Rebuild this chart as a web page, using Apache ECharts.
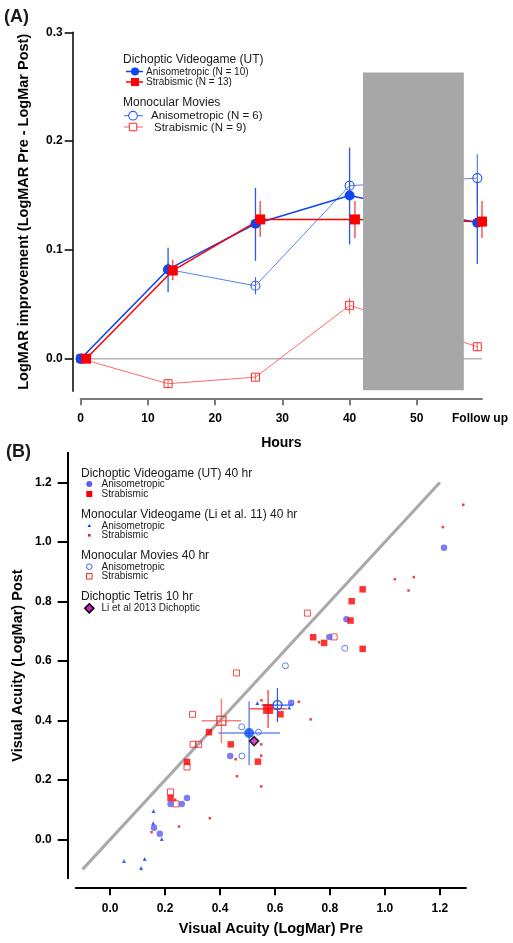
<!DOCTYPE html>
<html><head><meta charset="utf-8">
<script src="https://cdn.jsdelivr.net/npm/echarts@6/dist/echarts.min.js"></script>
<style>html,body{margin:0;padding:0;background:#fff}#c{width:513px;height:943px}</style>
</head><body><div id="c"></div>
<script>
// ================= Panel A data =================
const hoursCirc = [0, 13, 26, 40, 59];
const hoursSq = [0.8, 13.7, 26.7, 40.8, 59.7];
const hoursMonoSq = [0, 13, 26, 40, 59];
const dichAnisoImp = [0, 0.082, 0.124, 0.150, 0.125];
const dichAnisoLo  = [0, 0.061, 0.090, 0.105, 0.087];
const dichAnisoHi  = [0, 0.102, 0.157, 0.194, 0.163];
const dichStrabImp = [0, 0.081, 0.128, 0.128, 0.126];
const dichStrabLo  = [0, 0.072, 0.112, 0.111, 0.111];
const dichStrabHi  = [0, 0.091, 0.145, 0.145, 0.145];
const monoAnisoImp = [0, 0.082, 0.067, 0.159, 0.166];
const monoAnisoLo  = [0, 0.076, 0.059, 0.140, 0.144];
const monoAnisoHi  = [0, 0.088, 0.075, 0.178, 0.188];
const monoStrabImp = [0, -0.023, -0.017, 0.049, 0.011];
const monoStrabLo  = [0, -0.027, -0.020, 0.041, 0.007];
const monoStrabHi  = [0, -0.019, -0.014, 0.056, 0.015];
const grayBand = [42, 57, -0.029, 0.263];
const zeroLineX = [0, 59.7];
const xTicksA = [0, 10, 20, 30, 40, 50];
const followUpPos = 59.4;
const followUpLabel = 'Follow up';
const yTicksA = [0, 0.1, 0.2, 0.3];

// ================= Panel B data ([pre, post]) =================
const dichAnisoPts = [[1.215,0.981],[0.860,0.740],[0.798,0.681],[0.659,0.460],[0.437,0.281],
  [0.220,0.120],[0.261,0.120],[0.280,0.140],[0.160,0.040],[0.181,0.020]];
const dichStrabPts = [[0.919,0.841],[0.879,0.801],[0.875,0.736],[0.739,0.680],[0.779,0.661],
  [0.919,0.641],[0.360,0.361],[0.620,0.421],[0.439,0.320],[0.538,0.262],[0.280,0.261],[0.220,0.140]];
const monoMovAnisoPts = [[0.854,0.643],[0.638,0.584],[0.479,0.379],[0.540,0.361],[0.480,0.281]];
const monoMovStrabPts = [[0.718,0.761],[0.815,0.681],[0.460,0.560],[0.300,0.421],[0.302,0.320],
  [0.322,0.320],[0.280,0.244],[0.220,0.160],[0.240,0.120]];
const monoVGAnisoPts = [[0.536,0.459],[0.652,0.444],[0.158,0.096],[0.157,0.055],[0.188,0.002],
  [0.051,-0.072],[0.126,-0.065],[0.113,-0.095]];
const monoVGStrabPts = [[1.285,1.125],[1.211,1.050],[1.036,0.875],[1.105,0.882],[1.086,0.837],
  [0.761,0.663],[0.551,0.468],[0.687,0.463],[0.730,0.404],[0.550,0.320],[0.457,0.270],
  [0.550,0.282],[0.462,0.213],[0.550,0.179],[0.237,0.134],[0.151,0.025],[0.251,0.044],[0.363,0.072]];
// means: [x, y, xErr, yErr]
const dichAnisoMean = [0.506, 0.358, 0.112, 0.107];
const dichStrabMean = [0.575, 0.439, 0.068, 0.064];
const monoAnisoMean = [0.609, 0.452, 0.058, 0.057];
const monoStrabMean = [0.405, 0.399, 0.072, 0.075];
const tetrisPt = [[0.524, 0.331]];
const diagX = [-0.1, 1.2];
const diagY = [-0.1, 1.2];
const ticksB = [0, 0.2, 0.4, 0.6, 0.8, 1.0, 1.2];

// ================= build =================
const FONT = '"Liberation Sans", Arial, Helvetica, sans-serif';
const zip = (a, b) => a.map((v, i) => [v, b[i]]);
const zip3 = (a, b, c) => a.map((v, i) => [v, b[i], c[i]]);

function vErrSeries(x, lo, hi, color, w, z) {
  return {
    type: 'custom', xAxisIndex: 0, yAxisIndex: 0, z: z, silent: true,
    data: zip3(x, lo, hi).filter(d => d[1] !== d[2]),
    encode: { x: 0, y: [1, 2] },
    renderItem: function (params, api) {
      const p = api.coord([api.value(0), api.value(1)]);
      const q = api.coord([api.value(0), api.value(2)]);
      return { type: 'line', shape: { x1: p[0], y1: p[1], x2: q[0], y2: q[1] },
        style: { stroke: color, lineWidth: w } };
    }
  };
}
function meanErrSeries(m, color, w) {
  return {
    type: 'custom', xAxisIndex: 1, yAxisIndex: 1, z: 8, silent: true,
    data: [m], encode: { x: 0, y: 1 },
    renderItem: function (params, api) {
      const x = api.value(0), y = api.value(1), ex = api.value(2), ey = api.value(3);
      const a = api.coord([x - ex, y]), b = api.coord([x + ex, y]);
      const c = api.coord([x, y - ey]), d = api.coord([x, y + ey]);
      return { type: 'group', children: [
        { type: 'line', shape: { x1: a[0], y1: a[1], x2: b[0], y2: b[1] }, style: { stroke: color, lineWidth: w } },
        { type: 'line', shape: { x1: c[0], y1: c[1], x2: d[0], y2: d[1] }, style: { stroke: color, lineWidth: w } }
      ] };
    }
  };
}
function lineA(name, x, y, sym, size, lineColor, lw, item, z) {
  return { name, type: 'line', xAxisIndex: 0, yAxisIndex: 0, data: zip(x, y), clip: false,
    symbol: sym, symbolSize: size, showAllSymbol: true, z: z,
    lineStyle: { color: lineColor, width: lw }, itemStyle: item };
}
function scatB(name, pts, sym, size, item, z) {
  return { name, type: 'scatter', xAxisIndex: 1, yAxisIndex: 1, data: pts, symbol: sym,
    symbolSize: size, itemStyle: item, z: z, clip: false };
}

const series = [
  // Panel A
  { type: 'line', xAxisIndex: 0, yAxisIndex: 0, data: zip(zeroLineX, [0, 0]), showSymbol: false, silent: true,
    lineStyle: { color: '#b4b4b4', width: 1.5 }, z: 1 },
  vErrSeries(hoursMonoSq, monoStrabLo, monoStrabHi, '#ff6060', 1, 2),
  vErrSeries(hoursCirc, monoAnisoLo, monoAnisoHi, '#3a66ea', 1, 2),
  vErrSeries(hoursCirc, dichAnisoLo, dichAnisoHi, '#2a58e6', 1.3, 2),
  vErrSeries(hoursSq, dichStrabLo, dichStrabHi, '#f04040', 1.3, 2),
  lineA('Monocular Strabismic', hoursMonoSq, monoStrabImp, 'rect', 8, '#ff6a6a', 1,
    { color: 'rgba(255,255,255,0)', borderColor: '#ff2a2a', borderWidth: 1 }, 3),
  lineA('Monocular Anisometropic', hoursCirc, monoAnisoImp, 'circle', 9, '#5a80f2', 1,
    { color: 'rgba(255,255,255,0)', borderColor: '#2a58e8', borderWidth: 1.1 }, 3),
  lineA('Dichoptic Anisometropic', hoursCirc, dichAnisoImp, 'circle', 10, '#0d45ee', 1.5,
    { color: '#0d45ee' }, 4),
  lineA('Dichoptic Strabismic', hoursSq, dichStrabImp, 'rect', 10, '#ff0000', 1.5,
    { color: '#ff0000' }, 4),
  { type: 'custom', xAxisIndex: 0, yAxisIndex: 0, z: 6, silent: true, data: [grayBand],
    encode: { x: [0, 1], y: [2, 3] },
    renderItem: function (params, api) {
      const p = api.coord([api.value(0), api.value(3)]);
      const q = api.coord([api.value(1), api.value(2)]);
      return { type: 'rect', shape: { x: p[0], y: p[1], width: q[0] - p[0], height: q[1] - p[1] },
        style: { fill: '#a7a7a7' } };
    } },
  // Panel B
  { type: 'line', xAxisIndex: 1, yAxisIndex: 1, data: zip(diagX, diagY), showSymbol: false, silent: true,
    lineStyle: { color: '#a9a9a9', width: 3 }, z: 1 },
  scatB('MVG Strabismic', monoVGStrabPts, 'rect', 2.5, { color: '#ee1010' }, 2),
  scatB('MVG Anisometropic', monoVGAnisoPts, 'triangle', 4, { color: '#1636e6' }, 2),
  scatB('MM Strabismic', monoMovStrabPts, 'rect', 6, { color: 'rgba(255,255,255,0)', borderColor: '#f02020', borderWidth: 1 }, 3),
  scatB('MM Anisometropic', monoMovAnisoPts, 'circle', 6, { color: 'rgba(255,255,255,0)', borderColor: '#3a5fe8', borderWidth: 1 }, 3),
  scatB('DV Anisometropic', dichAnisoPts, 'circle', 6.5, { color: '#5b5df2' }, 4),
  scatB('DV Strabismic', dichStrabPts, 'rect', 6.5, { color: '#ff0000' }, 4),
  meanErrSeries(monoStrabMean, 'rgba(240,90,90,0.75)', 1.5),
  meanErrSeries(dichAnisoMean, 'rgba(80,120,240,0.85)', 1.5),
  meanErrSeries(dichStrabMean, '#ff2a2a', 1.2),
  meanErrSeries(monoAnisoMean, '#2a5ae8', 1.2),
  scatB('MM Strab mean', [monoStrabMean.slice(0, 2)], 'rect', 9, { color: 'rgba(255,255,255,0)', borderColor: '#f03030', borderWidth: 1.5 }, 9),
  scatB('DV Aniso mean', [dichAnisoMean.slice(0, 2)], 'circle', 10, { color: '#0a4cf5' }, 9),
  scatB('DV Strab mean', [dichStrabMean.slice(0, 2)], 'rect', 10, { color: '#ff0000' }, 9),
  scatB('MM Aniso mean', [monoAnisoMean.slice(0, 2)], 'circle', 9, { color: 'rgba(255,255,255,0)', borderColor: '#1a4ae8', borderWidth: 1.5 }, 9),
  scatB('Tetris', tetrisPt, 'diamond', 9, { color: '#d21cc4', borderColor: '#000', borderWidth: 1.6 }, 10)
];

const boldLbl = { fontFamily: FONT, fontWeight: 'bold', fontSize: 12, color: '#000' };
const nameStyle = { fontFamily: FONT, fontWeight: 'bold', fontSize: 14.5, color: '#000' };

const option = {
  animation: false,
  backgroundColor: '#fff',
  grid: [
    { left: 80.7, top: 32.3, width: 401.3, height: 359, outerBoundsMode: 'none', containLabel: false },
    { left: 75.7, top: 452.7, width: 390.3, height: 425.6, outerBoundsMode: 'none', containLabel: false }
  ],
  xAxis: [
    { gridIndex: 0, type: 'value', min: 0, max: 59.7, offset: 7,
      axisLine: { onZero: false, lineStyle: { color: '#7a7a7a', width: 2 } },
      axisTick: { customValues: xTicksA, length: 7, lineStyle: { color: '#7a7a7a', width: 2 } },
      axisLabel: Object.assign({ customValues: xTicksA.concat([followUpPos]), margin: 14,
        formatter: v => (v === followUpPos ? followUpLabel : String(v)) }, boldLbl),
      splitLine: { show: false },
      name: 'Hours', nameLocation: 'middle', nameGap: 38, nameMoveOverlap: false,
      nameTextStyle: Object.assign({}, nameStyle, { fontSize: 14 }) },
    { gridIndex: 1, type: 'value', min: -0.125, max: 1.295, offset: 9,
      axisLine: { onZero: false, lineStyle: { color: '#000', width: 2 } },
      axisTick: { customValues: ticksB, length: 8, lineStyle: { color: '#000', width: 2 } },
      axisLabel: Object.assign({ customValues: ticksB, margin: 15, formatter: v => v.toFixed(1) }, boldLbl),
      splitLine: { show: false },
      name: 'Visual Acuity (LogMar) Pre', nameLocation: 'middle', nameGap: 34, nameMoveOverlap: false,
      nameTextStyle: nameStyle }
  ],
  yAxis: [
    { gridIndex: 0, type: 'value', min: -0.03, max: 0.3, offset: 8,
      axisLine: { show: true, onZero: false, lineStyle: { color: '#000', width: 1.5 } },
      axisTick: { show: true, customValues: yTicksA, length: 8, lineStyle: { color: '#000', width: 1.5 } },
      axisLabel: Object.assign({ customValues: yTicksA, margin: 10, formatter: v => v.toFixed(1) }, boldLbl),
      splitLine: { show: false },
      name: 'LogMAR improvement (LogMAR Pre - LogMar Post)', nameLocation: 'middle', nameGap: 41,
      nameMoveOverlap: false, nameTextStyle: Object.assign({}, nameStyle, { fontSize: 14.5 }) },
    { gridIndex: 1, type: 'value', min: -0.13, max: 1.3, offset: 8,
      axisLine: { show: true, onZero: false, lineStyle: { color: '#000', width: 2 } },
      axisTick: { show: true, customValues: ticksB, length: 10, lineStyle: { color: '#000', width: 2 } },
      axisLabel: Object.assign({ customValues: ticksB, margin: 16, formatter: v => v.toFixed(1) }, boldLbl),
      splitLine: { show: false },
      name: 'Visual Acuity (LogMar) Post', nameLocation: 'middle', nameGap: 42,
      nameMoveOverlap: false, nameTextStyle: nameStyle }
  ],
  series: series,
  graphic: { elements: buildLegend() }
};

function T(x, y, s, size, weight) {
  return { type: 'text', x: x, y: y, z: 100, silent: true,
    style: { text: s, fill: '#1a1a1a', font: (weight || 'normal') + ' ' + size + 'px ' + FONT,
      textAlign: 'left', textVerticalAlign: 'middle', align: 'left', verticalAlign: 'middle' } };
}
function L(x1, y1, x2, y2, c, w) {
  return { type: 'line', z: 100, silent: true, shape: { x1, y1, x2, y2 }, style: { stroke: c, lineWidth: w } };
}
function C(cx, cy, r, fill, stroke, w) {
  return { type: 'circle', z: 101, silent: true, shape: { cx, cy, r }, style: { fill: fill, stroke: stroke || null, lineWidth: w || 0 } };
}
function R(cx, cy, s, fill, stroke, w) {
  return { type: 'rect', z: 101, silent: true, shape: { x: cx - s / 2, y: cy - s / 2, width: s, height: s },
    style: { fill: fill, stroke: stroke || null, lineWidth: w || 0 } };
}
function buildLegend() {
  const els = [];
  // Panel titles
  els.push(T(4, 17, '(A)', 18, 'bold'));
  els.push(T(6, 452, '(B)', 18, 'bold'));
  // Panel A legend
  els.push(T(123, 60, 'Dichoptic Videogame (UT)', 12));
  els.push(L(126, 71.5, 143, 71.5, '#0d45ee', 1.5), C(135, 71.5, 4, '#0d45ee'));
  els.push(T(146, 72, 'Anisometropic (N = 10)', 10));
  els.push(L(126, 82, 143, 82, '#ff0000', 1.5), R(135, 82, 8, '#ff0000'));
  els.push(T(146, 82.5, 'Strabismic (N = 13)', 10));
  els.push(T(123, 103, 'Monocular Movies', 12));
  els.push(L(124, 115.7, 143, 115.7, '#3a66ea', 1), C(133, 115.7, 4.3, '#fff', '#2a58e8', 1.1));
  els.push(T(151, 116, 'Anisometropic (N = 6)', 11.5));
  els.push(L(124, 127, 143, 127, '#ff6060', 1), R(133, 127, 7.5, '#fff', '#ff2a2a', 1), L(133, 123.5, 133, 130.5, '#ff6060', 1));
  els.push(T(154, 127.5, 'Strabismic (N = 9)', 11.5));
  // Panel B legend
  els.push(T(81, 473.3, 'Dichoptic Videogame (UT) 40 hr', 12));
  els.push(C(89.3, 484, 3, '#5b5df2'));
  els.push(T(101.5, 484.3, 'Anisometropic', 10));
  els.push(R(89.3, 494, 6, '#ff0000'));
  els.push(T(101.5, 494.3, 'Strabismic', 10));
  els.push(T(81, 514.3, 'Monocular Videogame (Li et al. 11) 40 hr', 12));
  els.push({ type: 'polygon', z: 101, silent: true, shape: { points: [[89.3, 524], [87.5, 527], [91.1, 527]] }, style: { fill: '#1636e6' } });
  els.push(T(101.5, 526, 'Anisometropic', 10));
  els.push(R(89.3, 535.3, 2.5, '#ee1010'));
  els.push(T(101.5, 535.6, 'Strabismic', 10));
  els.push(T(81, 556, 'Monocular Movies 40 hr', 12));
  els.push(C(89.3, 566.7, 2.8, 'rgba(255,255,255,0)', '#3a5fe8', 1));
  els.push(T(101.5, 567, 'Anisometropic', 10));
  els.push(R(89.3, 576.3, 5.5, 'rgba(255,255,255,0)', '#f02020', 1));
  els.push(T(101.5, 576.6, 'Strabismic', 10));
  els.push(T(81, 596.7, 'Dichoptic Tetris 10 hr', 12));
  els.push({ type: 'polygon', z: 101, silent: true, shape: { points: [[89.3, 603.8], [93.8, 608.3], [89.3, 612.8], [84.8, 608.3]] },
    style: { fill: '#d21cc4', stroke: '#000', lineWidth: 1.6 } });
  els.push(T(101.5, 608.6, 'Li et al 2013 Dichoptic', 10));
  return els;
}

const chart = echarts.init(document.getElementById('c'), null, { renderer: 'canvas' });
chart.setOption(option);
</script>
</body></html>
